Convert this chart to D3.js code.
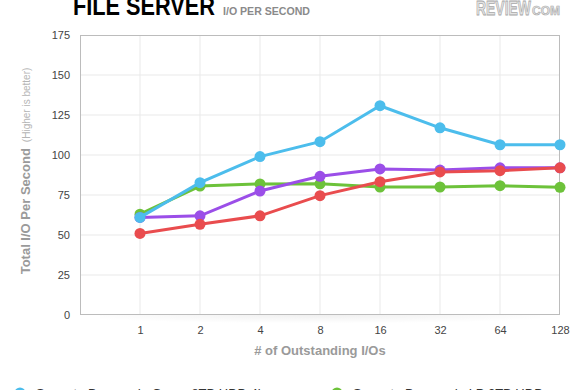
<!DOCTYPE html>
<html><head><meta charset="utf-8">
<script src="https://cdn.jsdelivr.net/npm/d3@7"></script>
<style>body{margin:0;background:#fff}svg{display:block}</style>
</head><body>
<svg id="c" width="580" height="390"></svg>
<script>
const categories = ["1","2","4","8","16","32","64","128"];
const yTicks = [0,25,50,75,100,125,150,175];
const seriesNames = ["Seagate Barracuda Green 8TB HDD 4k","Seagate Barracuda LP 2TB HDD","Series 3","Series 4"];
const blueVals   = [61, 82.7, 99, 108.3, 130.8, 117, 106.4, 106.4];
const greenVals  = [63, 80.6, 81.9, 82, 80, 80, 80.8, 79.8];
const purpleVals = [61, 62, 77.5, 86.7, 91.3, 90.6, 92, 92];
const redVals    = [51, 56.7, 62, 74.6, 83.3, 89.4, 90.2, 92];

const svg = d3.select("#c");
const L=80, R=560, T=35, B=315;
const step = (R-L)/categories.length;
const x = d3.scalePoint().domain(categories).range([L+step, R]);
const y = d3.scaleLinear().domain([0,175]).range([B,T]);

// shadow under plot
const defs = svg.append("defs");
const g1 = defs.append("radialGradient").attr("id","sh").attr("cx","50%").attr("cy","0%").attr("r","60%");
g1.append("stop").attr("offset","0%").attr("stop-color","#000").attr("stop-opacity",0.06);
g1.append("stop").attr("offset","100%").attr("stop-color","#000").attr("stop-opacity",0);
svg.append("rect").attr("x",L+20).attr("y",B).attr("width",R-L-40).attr("height",14).attr("fill","url(#sh)");

svg.append("rect").attr("x",L).attr("y",T).attr("width",R-L).attr("height",B-T).attr("fill","#fff");

// grid
svg.append("g").selectAll("line").data(yTicks.slice(1,-1)).join("line")
  .attr("x1",L).attr("x2",R).attr("y1",d=>y(d)).attr("y2",d=>y(d))
  .attr("stroke","#e9e9e9").attr("stroke-width",1);
svg.append("g").selectAll("line").data(categories.slice(0,-1)).join("line")
  .attr("x1",d=>x(d)).attr("x2",d=>x(d)).attr("y1",T).attr("y2",B)
  .attr("stroke","#e9e9e9").attr("stroke-width",1);
svg.append("rect").attr("x",L+0.5).attr("y",T+0.5).attr("width",R-L-1).attr("height",B-T-1)
  .attr("fill","none").attr("stroke","#bcbcbc");

// axes
const yAxis = d3.axisLeft(y).tickValues(yTicks).tickSize(0).tickPadding(10);
const ya = svg.append("g").attr("transform",`translate(${L},0)`).call(yAxis);
ya.select(".domain").remove();
ya.selectAll("text").attr("font-family","Liberation Sans, Arial, sans-serif").attr("font-size",11).attr("fill","#444");
const xAxis = d3.axisBottom(x).tickSize(0).tickPadding(11);
const xa = svg.append("g").attr("transform",`translate(0,${B})`).call(xAxis);
xa.select(".domain").remove();
xa.selectAll("text").attr("font-family","Liberation Sans, Arial, sans-serif").attr("font-size",11).attr("fill","#444");

svg.append("text").attr("x",320).attr("y",355).attr("text-anchor","middle")
  .attr("font-family","Liberation Sans, Arial, sans-serif").attr("font-size",13).attr("font-weight","bold")
  .attr("fill","#9a9a9a").text("# of Outstanding I/Os");

const yl = svg.append("text").attr("transform","translate(30,171) rotate(-90)").attr("text-anchor","middle")
  .attr("font-family","Liberation Sans, Arial, sans-serif");
yl.append("tspan").attr("font-size",13).attr("font-weight","bold").attr("fill","#9a9a9a").text("Total I/O Per Second");
yl.append("tspan").attr("font-size",10).attr("fill","#b5b5b5").attr("dx",6).text("(Higher is better)");

// title
svg.append("text").attr("x",73).attr("y",15).attr("font-family","Liberation Sans, Arial, sans-serif")
  .attr("font-size",25).attr("font-weight","900").attr("fill","#000")
  .attr("textLength",142).attr("lengthAdjust","spacingAndGlyphs").text("FILE SERVER");
svg.append("text").attr("x",223).attr("y",15).attr("font-family","Liberation Sans, Arial, sans-serif")
  .attr("font-size",11).attr("font-weight","bold").attr("fill","#8a8a8a")
  .attr("textLength",87).attr("lengthAdjust","spacingAndGlyphs").text("I/O PER SECOND");
// logo
svg.append("text").attr("x",476).attr("y",15).attr("font-family","Liberation Sans, Arial, sans-serif")
  .attr("font-size",20).attr("font-weight","900").attr("fill","#e4e4e4").attr("stroke","#a8a8a8").attr("stroke-width",0.8)
  .attr("textLength",55).attr("lengthAdjust","spacingAndGlyphs").text("REVIEW");
svg.append("text").attr("x",532).attr("y",15).attr("font-family","Liberation Sans, Arial, sans-serif")
  .attr("font-size",12).attr("font-weight","900").attr("fill","#e4e4e4").attr("stroke","#a8a8a8").attr("stroke-width",0.6)
  .attr("textLength",28).attr("lengthAdjust","spacingAndGlyphs").text("COM");

// series
const series = [
  {vals:greenVals, color:"#6dc23a"},
  {vals:purpleVals, color:"#9b4ee8"},
  {vals:redVals, color:"#e94c4e"},
  {vals:blueVals, color:"#4cbdec"}
];
const line = d3.line().x((d,i)=>x(categories[i])).y(d=>y(d));
series.forEach(s=>{
  const g = svg.append("g");
  g.append("path").attr("d",line(s.vals)).attr("fill","none").attr("stroke",s.color).attr("stroke-width",3);
  g.selectAll("circle").data(s.vals).join("circle")
    .attr("cx",(d,i)=>x(categories[i])).attr("cy",d=>y(d)).attr("r",5.5).attr("fill",s.color);
});

// legend (partially visible)
const legend = [
  {name:seriesNames[0], color:"#4cbdec", x:20},
  {name:seriesNames[1], color:"#6dc23a", x:337}
];
legend.forEach(l=>{
  svg.append("circle").attr("cx",l.x).attr("cy",393).attr("r",5.5).attr("fill",l.color);
  svg.append("text").attr("x",l.x+16).attr("y",398).attr("font-family","Liberation Sans, Arial, sans-serif")
    .attr("font-size",13).attr("fill","#333").text(l.name);
});
</script>
</body></html>
